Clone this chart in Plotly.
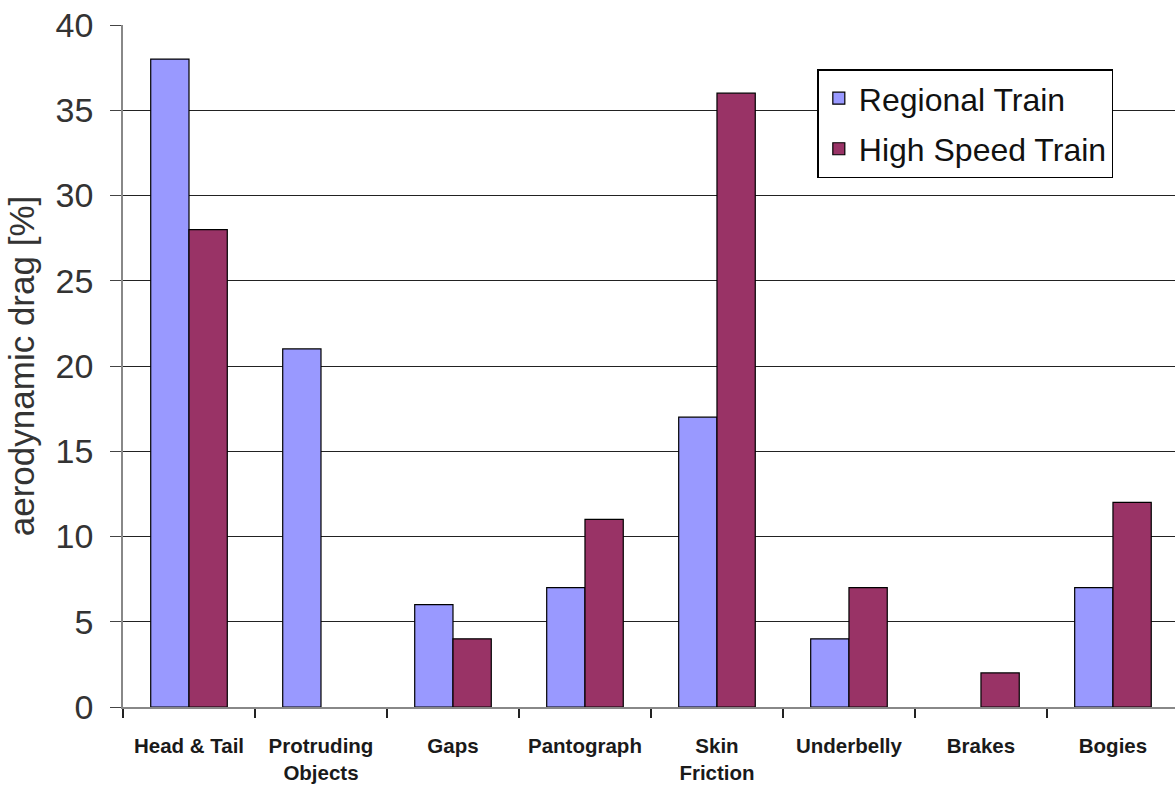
import plotly.graph_objects as go

categories = ["Head & Tail", "Protruding<br>Objects", "Gaps", "Pantograph",
              "Skin<br>Friction", "Underbelly", "Brakes", "Bogies"]
regional = [38, 21, 6, 7, 17, 4, 0, 7]
high_speed = [28, 0, 4, 11, 36, 7, 2, 12]
y_ticks = [0, 5, 10, 15, 20, 25, 30, 35, 40]


def hide_zero(vals):
    return [v if v != 0 else None for v in vals]


fig = go.Figure()
fig.add_trace(go.Bar(x=categories, y=hide_zero(regional), name="Regional Train",
                     legendgroup="a",
                     marker=dict(color="#9999FF", line=dict(color="#000000", width=1.2))))
fig.add_trace(go.Bar(x=categories, y=hide_zero(high_speed), name="High Speed Train",
                     legendgroup="b",
                     marker=dict(color="#993366", line=dict(color="#000000", width=1.2))))

fig.update_layout(
    width=1175, height=793,
    margin=dict(l=123, r=0, t=25, b=86),
    paper_bgcolor="white", plot_bgcolor="white",
    barmode="group", bargap=0.42, bargroupgap=0,
    font=dict(family="Liberation Sans, Arial, sans-serif", color="#222"),
    legend=dict(x=0.66, y=0.935, xanchor="left", yanchor="top",
                bgcolor="white", bordercolor="#000", borderwidth=1.5,
                font=dict(size=32, color="#111"), itemwidth=30,
                traceorder="grouped", tracegroupgap=6),
    xaxis=dict(type="category", range=[-0.5, 7.47], tickson="boundaries",
               ticks="outside", ticklen=9, tickcolor="#222", tickwidth=1.5,
               showline=True, linecolor="#888", linewidth=1.5,
               ticklabelstandoff=20,
               tickfont=dict(family="Liberation Sans, Arial", size=20.5, color="#1a1a1a", weight="bold"),
               showgrid=False),
    yaxis=dict(range=[0, 40], tickvals=y_ticks, ticks="outside", ticklen=11,
               tickcolor="#444", showline=True, linecolor="#888", linewidth=1.5,
               showgrid=True, gridcolor="#222", gridwidth=1.3,
               ticklabelstandoff=10,
               tickfont=dict(size=34, color="#333"),
               title=dict(text="aerodynamic drag [%]", font=dict(size=35, color="#333"), standoff=10),
               zeroline=False),
)

fig.write_html("out.html")
